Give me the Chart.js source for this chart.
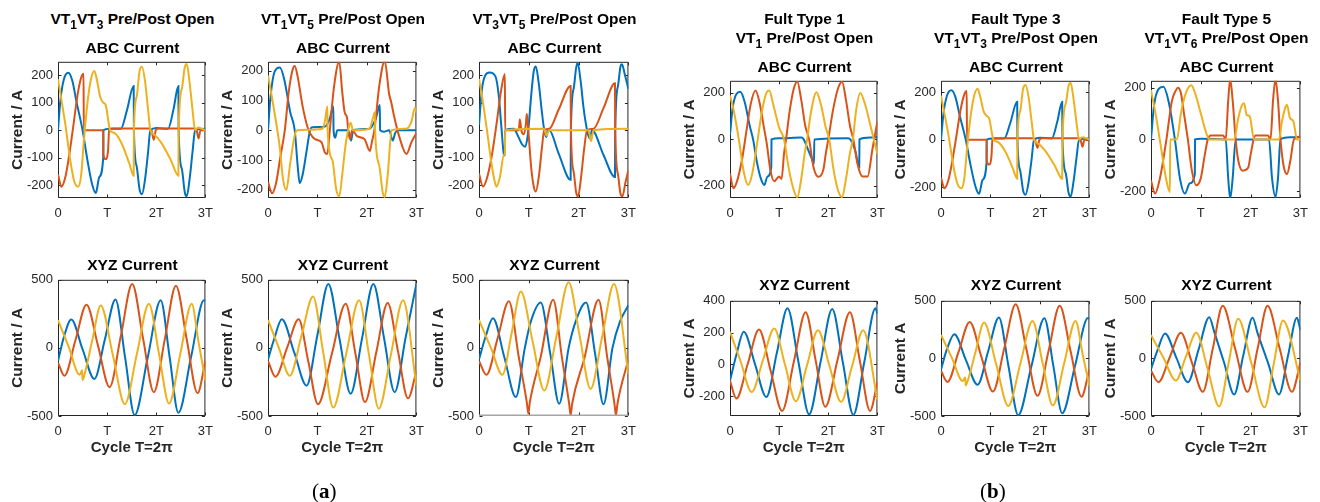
<!DOCTYPE html>
<html>
<head>
<meta charset="utf-8">
<script src="https://cdn.jsdelivr.net/npm/chart.js@4.4.1/dist/chart.umd.min.js"></script>
<style>
  body { margin: 0; width: 1320px; height: 502px; background: #fff; position: relative; overflow: hidden;
         font-family: "Liberation Sans", Arial, sans-serif; }
  canvas { position: absolute; }
  .ttl { position: absolute; text-align: center; font-weight: bold; font-size: 15.5px; line-height: 20px;
         color: #000; white-space: nowrap; }
  .sub { font-size: 12px; position: relative; top: 5px; }
  .tag { position: absolute; font-family: "Liberation Serif", serif; font-size: 21px; line-height: 24px; }
</style>
</head>
<body>
<script>
/***************
 * Chart data  *
 ***************/
// x is time in cycles T, y is current in A
const xTickValues = [0, 1, 2, 3];
const xTickLabels = ['0', 'T', '2T', '3T'];
const abcTicksFine = [-200, -100, 0, 100, 200];
const abcTicks = [-200, 0, 200];
const xyzTicks = [-500, 0, 500];
const xyzTicksLow = [-200, 0, 200, 400];

// (a) VT1VT3 open  (also Fault Type 3 in (b))
const a1AbcA = [[0,0],[0.05,110],[0.12,185],[0.21,208],[0.29,180],[0.38,100],[0.5,0],[0.6,-110],[0.7,-200],[0.77,-228],[0.84,-170],[0.92,-100],[0.925,0],[1.05,5],[1.28,5],[1.4,70],[1.54,160],[1.545,0],[1.6,-130],[1.66,-215],[1.71,-232],[1.77,-180],[1.83,-85],[1.88,0],[2.0,8],[2.24,5],[2.35,75],[2.45,160],[2.455,0],[2.52,-140],[2.58,-225],[2.62,-240],[2.68,-175],[2.74,-75],[2.79,0],[3.0,5]];
const a1AbcB = [[0,-160],[0.07,-205],[0.15,-170],[0.22,-100],[0.3,0],[0.4,130],[0.47,190],[0.52,205],[0.525,0],[0.92,0],[0.925,-90],[0.97,-105],[1.02,-70],[1.04,0],[1.1,6],[1.85,6],[1.9,0],[1.95,-35],[1.99,0],[2.05,6],[2.78,6],[2.82,0],[2.86,-30],[2.9,0],[3.0,0]];
const a1AbcC = [[0,185],[0.07,110],[0.15,20],[0.25,-110],[0.33,-185],[0.41,-205],[0.47,-165],[0.53,-30],[0.6,100],[0.67,185],[0.74,215],[0.8,175],[0.86,120],[0.92,100],[0.97,92],[1.06,0],[1.15,-10],[1.3,-50],[1.45,-120],[1.54,-165],[1.545,0],[1.6,120],[1.66,215],[1.71,230],[1.77,180],[1.83,80],[1.88,0],[1.95,-15],[2.1,-45],[2.3,-110],[2.45,-165],[2.455,0],[2.52,150],[2.58,228],[2.62,240],[2.68,170],[2.74,70],[2.79,0],[2.85,10],[3.0,0]];
const a1XyzX = [[0,-96],[0.12,80],[0.27,209],[0.5,-10],[0.74,-228],[0.955,64],[1.17,356],[1.365,-70],[1.56,-493],[1.825,-72],[2.09,349],[2.27,-63],[2.45,-476],[2.71,-63],[2.97,350],[3.0,345]];
const a1XyzY = [[0,-108],[0.13,-204],[0.355,56],[0.58,317],[0.815,15],[1.05,-288],[1.28,90],[1.51,469],[1.73,72],[1.95,-325],[2.175,66],[2.4,457],[2.62,62],[2.84,-332],[3.0,-96]];
const a1XyzZ = [[0,204],[0.22,5],[0.44,-197],[0.49,-165],[0.5,-235],[0.54,-195],[0.7,60],[0.87,312],[1.115,-50],[1.36,-413],[1.605,-44],[1.85,325],[2.055,-42],[2.26,-409],[2.49,-42],[2.72,325],[2.86,42],[3.0,-240]];

// (a) VT1VT5 open
const a2AbcA = [[0,0],[0.05,110],[0.13,195],[0.24,211],[0.33,170],[0.45,60],[0.54,0],[0.6,-120],[0.64,-178],[0.7,-150],[0.78,-70],[0.85,0],[0.9,10],[1.15,12],[1.25,40],[1.32,80],[1.325,0],[1.36,-25],[1.4,0],[1.62,0],[1.68,-35],[1.72,0],[2.05,5],[2.18,40],[2.26,85],[2.265,0],[2.35,-5],[2.45,0],[2.52,-35],[2.57,-10],[2.62,0],[3.0,0]];
const a2AbcB = [[0,-174],[0.08,-212],[0.16,-180],[0.25,-90],[0.34,0],[0.42,130],[0.5,205],[0.54,216],[0.6,180],[0.7,80],[0.8,10],[0.85,-10],[0.95,-30],[1.08,-40],[1.15,-75],[1.2,-80],[1.25,0],[1.33,140],[1.44,230],[1.5,130],[1.55,60],[1.6,40],[1.62,0],[1.66,-30],[1.7,0],[1.8,-20],[1.95,-30],[2.06,-70],[2.1,-40],[2.15,0],[2.25,150],[2.36,233],[2.45,120],[2.49,95],[2.55,46],[2.65,-20],[2.8,-80],[2.9,-40],[3.0,-10]];
const a2AbcC = [[0,184],[0.08,110],[0.16,30],[0.24,-60],[0.3,-160],[0.37,-201],[0.45,-110],[0.55,-10],[0.6,0],[1.1,5],[1.15,30],[1.2,80],[1.205,0],[1.3,-100],[1.38,-200],[1.44,-223],[1.5,-150],[1.56,-60],[1.62,0],[1.67,25],[1.72,0],[2.05,5],[2.12,40],[2.16,60],[2.165,0],[2.25,-120],[2.32,-210],[2.36,-225],[2.42,-150],[2.5,0],[2.8,5],[2.9,30],[2.97,75],[3.0,60]];
const a2XyzX = [[0,-84],[0.12,60],[0.28,210],[0.53,-33],[0.78,-277],[1.0,97],[1.22,470],[1.445,67],[1.67,-337],[1.9,67],[2.13,470],[2.345,73],[2.56,-325],[2.78,73],[3.0,470]];
const a2XyzY = [[0,-96],[0.15,-212],[0.385,0],[0.62,210],[0.815,-100],[1.01,-414],[1.29,-45],[1.57,325],[1.765,-37],[1.96,-398],[2.19,-30],[2.42,330],[2.625,-20],[2.83,-370],[3.0,-170]];
const a2XyzZ = [[0,205],[0.22,0],[0.44,-205],[0.675,87],[0.91,378],[1.115,-30],[1.32,-438],[1.58,-44],[1.84,350],[2.04,-48],[2.24,-446],[2.485,-48],[2.73,350],[3.0,-277]];

// (a) VT3VT5 open
const a3AbcA = [[0,20],[0.06,150],[0.13,200],[0.21,209],[0.33,195],[0.4,120],[0.45,10],[0.5,-88],[0.52,-92],[0.525,0],[0.7,5],[0.78,-20],[0.86,-50],[0.93,-60],[0.97,-30],[0.99,0],[1.05,130],[1.1,215],[1.14,231],[1.2,170],[1.26,70],[1.31,0],[1.35,-25],[1.38,0],[1.41,0],[1.6,-85],[1.84,-180],[1.845,0],[1.9,150],[1.95,225],[1.98,245],[2.04,180],[2.1,80],[2.17,0],[2.22,-30],[2.27,0],[2.5,-90],[2.73,-170],[2.735,0],[2.79,160],[2.84,230],[2.87,239],[2.93,200],[3.0,150]];
const a3AbcB = [[0,-157],[0.08,-205],[0.15,-180],[0.25,-100],[0.35,20],[0.44,140],[0.52,204],[0.525,0],[0.8,0],[0.82,40],[0.85,0],[0.9,-15],[0.94,20],[0.96,60],[0.99,0],[1.05,-140],[1.1,-205],[1.14,-222],[1.2,-170],[1.26,-70],[1.31,0],[1.41,5],[1.6,75],[1.84,160],[1.845,0],[1.9,-150],[1.95,-225],[1.99,-240],[2.05,-170],[2.11,-70],[2.17,0],[2.3,5],[2.5,80],[2.73,170],[2.735,0],[2.79,-160],[2.84,-230],[2.88,-240],[2.94,-190],[3.0,-145]];
const a3AbcC = [[0,186],[0.08,100],[0.16,0],[0.25,-120],[0.32,-190],[0.35,-205],[0.42,-170],[0.5,-90],[0.52,-85],[0.525,0],[1.3,5],[1.36,-20],[1.4,0],[2.2,0],[2.25,-40],[2.3,0],[3.0,5]];
const a3XyzX = [[0,-84],[0.13,80],[0.28,217],[0.51,-70],[0.74,-361],[0.92,0],[1.04,193],[1.24,333],[1.43,-40],[1.61,-410],[1.8,0],[1.94,193],[2.15,333],[2.33,-40],[2.5,-414],[2.68,0],[2.83,193],[3.0,313]];
const a3XyzY = [[0,-96],[0.15,-198],[0.375,72],[0.6,342],[0.8,-70],[0.96,-400],[0.99,-482],[1.02,-400],[1.24,-64],[1.49,354],[1.665,-70],[1.81,-410],[1.84,-494],[1.87,-410],[2.12,-70],[2.4,354],[2.575,-70],[2.72,-410],[2.75,-494],[2.78,-410],[3.0,-84]];
const a3XyzZ = [[0,205],[0.24,0],[0.47,-198],[0.655,108],[0.84,414],[1.075,50],[1.31,-313],[1.555,85],[1.8,482],[2.02,90],[2.24,-301],[2.475,85],[2.71,470],[3.0,-193]];
const a3XyzFloor = [[0,-500],[3,-500]];   // grey trace lying on the lower limit

// (b) Fault Type 1, VT1 open
const b1AbcA = [[0,20],[0.05,130],[0.13,195],[0.21,205],[0.3,160],[0.4,60],[0.47,0],[0.55,-100],[0.63,-170],[0.7,-196],[0.76,-160],[0.84,-119],[0.845,0],[1.0,5],[1.45,8],[1.5,0],[1.58,-40],[1.66,-80],[1.71,-105],[1.715,0],[2.4,5],[2.45,0],[2.55,-50],[2.63,-120],[2.635,0],[2.85,8],[3.0,10]];
const b1AbcB = [[0,-147],[0.07,-210],[0.15,-175],[0.25,-80],[0.33,30],[0.42,150],[0.52,210],[0.6,160],[0.7,40],[0.75,-20],[0.82,-130],[0.9,-180],[1.0,-160],[1.05,-170],[1.1,-60],[1.14,0],[1.22,130],[1.3,220],[1.37,248],[1.45,170],[1.53,60],[1.61,0],[1.7,-120],[1.8,-161],[1.9,-130],[1.95,-60],[2.0,0],[2.1,130],[2.2,220],[2.28,248],[2.36,170],[2.44,60],[2.51,0],[2.6,-110],[2.7,-160],[2.8,-160],[2.9,-40],[3.0,77]];
const b1AbcC = [[0,189],[0.08,120],[0.18,0],[0.28,-140],[0.37,-196],[0.45,-150],[0.55,-20],[0.65,120],[0.74,200],[0.8,210],[0.88,150],[1.0,50],[1.1,0],[1.2,-130],[1.3,-220],[1.37,-248],[1.45,-170],[1.52,-60],[1.57,0],[1.65,120],[1.76,203],[1.85,150],[1.95,50],[2.02,0],[2.1,-120],[2.2,-220],[2.28,-248],[2.36,-170],[2.44,-60],[2.5,0],[2.57,130],[2.65,200],[2.75,150],[2.88,40],[3.0,-63]];
const b1XyzX = [[0,-103],[0.13,60],[0.28,205],[0.51,0],[0.74,-205],[0.955,74],[1.17,353],[1.39,20],[1.61,-314],[1.845,18],[2.08,349],[2.295,15],[2.51,-318],[2.735,18],[2.96,353],[3.0,318]];
const b1XyzY = [[0,-103],[0.13,-215],[0.36,2],[0.59,219],[0.825,-37],[1.06,-293],[1.3,18],[1.54,328],[1.74,30],[1.94,-267],[2.19,30],[2.44,328],[2.645,18],[2.85,-293],[3.0,-113]];
const b1XyzZ = [[0,205],[0.22,15],[0.44,-174],[0.67,26],[0.9,226],[1.12,-3],[1.34,-232],[1.565,-8],[1.79,215],[2.025,-10],[2.26,-236],[2.485,-10],[2.71,215],[3.0,-226]];

// (b) Fault Type 5, VT1VT6 open
const b3AbcA = [[0,0],[0.06,130],[0.15,195],[0.25,204],[0.35,150],[0.48,0],[0.58,-150],[0.68,-210],[0.78,-170],[0.88,-134],[0.885,0],[1.0,3],[1.5,0],[1.55,-150],[1.59,-229],[1.64,-150],[1.7,0],[2.37,0],[2.43,-150],[2.5,-223],[2.55,-150],[2.6,0],[2.8,8],[3.0,10]];
const b3AbcB = [[0,-159],[0.08,-210],[0.18,-150],[0.31,0],[0.42,150],[0.5,190],[0.54,200],[0.6,180],[0.67,90],[0.74,0],[0.82,-120],[0.91,-178],[1.0,-150],[1.08,-60],[1.14,0],[1.2,15],[1.45,15],[1.5,0],[1.55,150],[1.59,233],[1.64,150],[1.7,0],[1.75,-80],[1.84,-121],[1.95,-110],[2.0,-60],[2.06,0],[2.1,15],[2.35,15],[2.4,0],[2.45,150],[2.5,233],[2.55,150],[2.6,0],[2.66,-100],[2.73,-134],[2.8,-80],[2.87,0],[3.0,10]];
const b3AbcC = [[0,191],[0.1,90],[0.2,-30],[0.3,-150],[0.38,-204],[0.385,0],[0.52,0],[0.6,100],[0.7,180],[0.81,210],[0.9,170],[1.0,100],[1.1,30],[1.17,0],[1.67,0],[1.75,80],[1.82,130],[1.87,140],[1.92,95],[1.98,90],[2.07,0],[2.57,0],[2.63,70],[2.7,125],[2.73,134],[2.79,83],[2.86,70],[2.93,0],[3.0,0]];
const b3XyzX = [[0,-93],[0.13,70],[0.28,217],[0.51,5],[0.74,-206],[0.955,76],[1.17,358],[1.27,230],[1.47,-40],[1.67,-313],[1.85,20],[2.04,352],[2.14,220],[2.355,-45],[2.57,-313],[2.75,20],[2.93,352],[3.0,245]];
const b3XyzY = [[0,-107],[0.15,-206],[0.375,8],[0.6,222],[0.82,-34],[1.04,-290],[1.24,83],[1.44,456],[1.69,83],[1.94,-290],[2.14,83],[2.34,456],[2.585,83],[2.83,-290],[3.0,-37]];
const b3XyzZ = [[0,203],[0.25,5],[0.5,-192],[0.7,15],[0.91,222],[1.14,-97],[1.37,-417],[1.56,-37],[1.75,344],[2.015,-40],[2.28,-425],[2.465,-47],[2.65,330],[3.0,-192]];

const phaseColors = ['#0072BD', '#D95319', '#EDB120', '#A5A5A5'];
const fontFamily = '"Liberation Sans", Arial, sans-serif';

/**********
 * Layout *
 **********/
const marginLeft = 58;   // y tick labels + y title
const marginTop = 10;
const marginRight = 14;

const vt = n => `VT<span class="sub">${n}</span>`;

const panels = [
    {left: 58,   top: 59,  w: 149, h: 139, y: [-246, 248], ticks: abcTicksFine, series: [a1AbcA, a1AbcB, a1AbcC],
     heads: [[19, vt(1) + vt(3) + ' Pre/Post Open'], [48, 'ABC Current']], yTitle: 'Current / A'},
    {left: 268,  top: 59,  w: 150, h: 139, y: [-228, 230], ticks: abcTicksFine, series: [a2AbcA, a2AbcB, a2AbcC],
     heads: [[19, vt(1) + vt(5) + ' Pre/Post Open'], [48, 'ABC Current']], yTitle: 'Current / A'},
    {left: 479,  top: 59,  w: 151, h: 139, y: [-246, 248], ticks: abcTicksFine, series: [a3AbcA, a3AbcB, a3AbcC],
     heads: [[19, vt(3) + vt(5) + ' Pre/Post Open'], [48, 'ABC Current']], yTitle: 'Current / A'},
    {left: 58,   top: 277, w: 149, h: 139, y: [-500, 500], ticks: xyzTicks, series: [a1XyzX, a1XyzY, a1XyzZ],
     heads: [[265, 'XYZ Current']], yTitle: 'Current / A', xTitle: true},
    {left: 268,  top: 277, w: 150, h: 139, y: [-500, 500], ticks: xyzTicks, series: [a2XyzX, a2XyzY, a2XyzZ],
     heads: [[265, 'XYZ Current']], yTitle: 'Current / A', xTitle: true},
    {left: 479,  top: 277, w: 151, h: 139, y: [-500, 500], ticks: xyzTicks, series: [a3XyzX, a3XyzY, a3XyzZ, a3XyzFloor],
     heads: [[265, 'XYZ Current']], yTitle: 'Current / A', xTitle: true},
    {left: 730,  top: 78,  w: 149, h: 120, y: [-252, 252], ticks: abcTicks, series: [b1AbcA, b1AbcB, b1AbcC],
     heads: [[18.5, 'Fult Type 1'], [38, vt(1) + ' Pre/Post Open'], [67, 'ABC Current']], yTitle: 'Current / A'},
    {left: 941,  top: 78,  w: 150, h: 120, y: [-246, 248], ticks: abcTicks, series: [a1AbcA, a1AbcB, a1AbcC],
     heads: [[18.5, 'Fault Type 3'], [38, vt(1) + vt(3) + ' Pre/Post Open'], [67, 'ABC Current']], yTitle: 'Current / A'},
    {left: 1151, top: 78,  w: 151, h: 120, y: [-227, 227], ticks: abcTicks, series: [b3AbcA, b3AbcB, b3AbcC],
     heads: [[18.5, 'Fault Type 5'], [38, vt(1) + vt(6) + ' Pre/Post Open'], [67, 'ABC Current']], yTitle: 'Current / A'},
    {left: 730,  top: 298, w: 149, h: 118, y: [-325, 400], ticks: xyzTicksLow, series: [b1XyzX, b1XyzY, b1XyzZ],
     heads: [[285, 'XYZ Current']], yTitle: 'Current / A', xTitle: true},
    {left: 941,  top: 298, w: 150, h: 118, y: [-500, 500], ticks: xyzTicks, series: [a1XyzX, a1XyzY, a1XyzZ],
     heads: [[285, 'XYZ Current']], yTitle: 'Current A', xTitle: true},
    {left: 1151, top: 298, w: 151, h: 118, y: [-500, 500], ticks: xyzTicks, series: [b3XyzX, b3XyzY, b3XyzZ],
     heads: [[285, 'XYZ Current']], yTitle: 'Current / A', xTitle: true}
];

/**
 * Draws the MATLAB style box around the plot area with inward ticks,
 * underneath the traces (axes layer 'bottom').
 */
const axesBox = {
    id: 'axesBox',
    beforeDatasetsDraw(chart) {
        const {ctx, chartArea: a, scales} = chart;
        const l = a.left + 0.5, r = a.right - 0.5, t = a.top + 0.5, b = a.bottom - 0.5;
        ctx.save();
        ctx.strokeStyle = '#262626';
        ctx.lineWidth = 1;
        ctx.beginPath();
        ctx.rect(l, t, r - l, b - t);
        scales.x.ticks.forEach(tick => {
            const x = Math.round(scales.x.getPixelForValue(tick.value)) + 0.5;
            ctx.moveTo(x, b); ctx.lineTo(x, b - 3);
            ctx.moveTo(x, t); ctx.lineTo(x, t + 3);
        });
        scales.y.ticks.forEach(tick => {
            const y = Math.round(scales.y.getPixelForValue(tick.value)) + 0.5;
            ctx.moveTo(l, y); ctx.lineTo(l + 3, y);
            ctx.moveTo(r, y); ctx.lineTo(r - 3, y);
        });
        ctx.stroke();
        ctx.restore();
    }
};

function addText(className, html, left, top, width) {
    const div = document.createElement('div');
    div.className = className;
    div.innerHTML = html;
    div.style.left = left + 'px';
    div.style.top = top + 'px';
    if (width) div.style.width = width + 'px';
    document.body.appendChild(div);
}

function makePanel(p) {
    const marginBottom = p.xTitle ? 50 : 26;
    const canvas = document.createElement('canvas');
    canvas.width = marginLeft + p.w + marginRight;
    canvas.height = marginTop + p.h + marginBottom;
    canvas.style.left = (p.left - marginLeft) + 'px';
    canvas.style.top = (p.top - marginTop) + 'px';
    document.body.appendChild(canvas);

    p.heads.forEach(([y, html]) => addText('ttl', html, p.left - 40, y - 10, p.w + 80));

    new Chart(canvas, {
        type: 'line',
        data: {
            datasets: p.series.map((s, i) => ({
                data: s.map(([t, v]) => ({x: t, y: v})),
                borderColor: phaseColors[i],
                borderWidth: i === 3 ? 3 : 2,
                pointRadius: 0,
                fill: false,
                cubicInterpolationMode: 'monotone',
                order: 3 - i
            }))
        },
        options: {
            responsive: false,
            animation: false,
            events: [],
            layout: {padding: {top: marginTop, right: marginRight, left: 0, bottom: 0}},
            plugins: {legend: {display: false}, tooltip: {enabled: false}},
            scales: {
                x: {
                    type: 'linear',
                    min: 0,
                    max: 3,
                    afterBuildTicks: scale => { scale.ticks = xTickValues.map(v => ({value: v})); },
                    afterFit: scale => { scale.height = marginBottom; },
                    grid: {display: false, drawTicks: false},
                    border: {display: false},
                    ticks: {
                        padding: 8,
                        color: '#262626',
                        maxRotation: 0,
                        autoSkip: false,
                        font: {size: 13, family: fontFamily},
                        callback: v => xTickLabels[xTickValues.indexOf(v)]
                    },
                    title: {
                        display: !!p.xTitle,
                        text: 'Cycle T=2π',
                        color: '#262626',
                        padding: {top: 0, bottom: 8.7},
                        font: {size: 15, weight: 'bold', family: fontFamily}
                    }
                },
                y: {
                    min: p.y[0],
                    max: p.y[1],
                    afterBuildTicks: scale => { scale.ticks = p.ticks.map(v => ({value: v})); },
                    afterFit: scale => { scale.width = marginLeft; },
                    grid: {display: false, drawTicks: false},
                    border: {display: false},
                    ticks: {
                        padding: 5,
                        color: '#262626',
                        font: {size: 13, family: fontFamily},
                        callback: v => String(v)
                    },
                    title: {
                        display: true,
                        text: p.yTitle,
                        color: '#262626',
                        padding: {top: 8, bottom: 0},
                        font: {size: 15.5, weight: 'bold', family: fontFamily}
                    }
                }
            }
        },
        plugins: [axesBox]
    });
}

panels.forEach(makePanel);

addText('tag', '(<b>a</b>)', 312, 479);
addText('tag', '(<b>b</b>)', 980, 479);
</script>
</body>
</html>
